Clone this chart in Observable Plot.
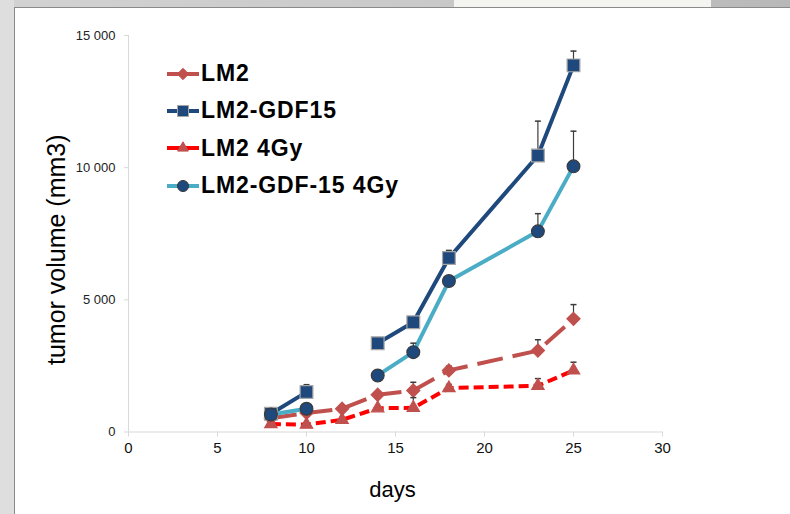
<!DOCTYPE html>
<html>
<head>
<meta charset="utf-8">
<script src="https://cdn.jsdelivr.net/npm/d3@7"></script>
<script src="https://cdn.jsdelivr.net/npm/@observablehq/plot@0.6"></script>
<style>
  html, body { margin: 0; padding: 0; background: #fff; }
  #page { position: relative; width: 790px; height: 514px; overflow: hidden; background: #fff; font-family: "Liberation Sans", Arial, sans-serif; }
  .strip { position: absolute; }
  #chart { position: absolute; left: 0; top: 0; }
  #legend { position: absolute; left: 159px; top: 55px; }
  .lrow { display: flex; align-items: center; height: 37.3px; }
  .lrow span { font-weight: bold; font-size: 23px; letter-spacing: 0.9px; color: #000; margin-left: 0px; }
</style>
</head>
<body>
<div id="page">
  <div class="strip" style="left:0;top:0;width:790px;height:7px;background:linear-gradient(90deg,#d2d2d2,#c9c9c9 55%,#b8b8b8);"></div>
  <div class="strip" style="left:454px;top:0;width:257px;height:7px;background:#f4f4f0;"></div>
  <div class="strip" style="left:0;top:7px;width:790px;height:1px;background:#8a8a8a;"></div>
  <div class="strip" style="left:0;top:0;width:14px;height:514px;background:#dedede;"></div>
  <div class="strip" style="left:14px;top:7px;width:1px;height:507px;background:#8a8a8a;"></div>
  <div id="chart"></div>
  <div id="legend"></div>
</div>
<script>
// ---- data ----
const days = [8, 10, 12, 14, 16, 18, 23, 25];
const seriesNames = ["LM2", "LM2-GDF15", "LM2 4Gy", "LM2-GDF-15 4Gy"];
const lm2      = [520, 720, 880, 1410, 1570, 2330, 3080, 4280];
const lm2Err   = [null, null, null, null, 1880, 2490, 3490, 4820];
const gdf15    = [690, 1510, null, 3360, 4150, 6580, 10460, 13870];
const gdf15Err = [null, 1790, null, null, null, 6870, 11760, 14410];
const lm24     = [300, 280, 460, 900, 915, 1660, 1750, 2330];
const lm24Err  = [null, null, null, null, 1300, 1800, 2020, 2640];
const gdf4     = [660, 880, null, 2140, 3020, 5710, 7590, 10050];
const gdf4Err  = [null, null, null, null, 3360, null, 8260, 11380];
const yTicks = [0, 5000, 10000, 15000];
const xTicks = [0, 5, 10, 15, 20, 25, 30];

// ---- styles ----
const styles = {
  "LM2":            {line: "#c0504d", marker: "#c0504d", mstroke: "#c0504d", symbol: "diamond2", r: 5.9, dash: "26,10"},
  "LM2-GDF15":      {line: "#1f497d", marker: "#1f497d", mstroke: "#a6a6a6", symbol: "square",   r: 7.2, dash: null},
  "LM2 4Gy":        {line: "#ff0000", marker: "#c0504d", mstroke: "#c0504d", symbol: "triangle", r: 4.6, dash: "10,5"},
  "LM2-GDF-15 4Gy": {line: "#4bacc6", marker: "#1f497d", mstroke: "#3a3a3a", symbol: "circle",   r: 6.4, dash: null}
};
const values = [lm2, gdf15, lm24, gdf4];
const errs = [lm2Err, gdf15Err, lm24Err, gdf4Err];

const rows = [];
seriesNames.forEach((s, i) => days.forEach((d, j) => rows.push({series: s, day: d, v: values[i][j], e: errs[i][j]})));

const fmt = d3.formatLocale({decimal: ",", thousands: " ", grouping: [3], currency: ["", ""]}).format(",");

const capSymbol = {draw(ctx, size) { const w = Math.sqrt(size / Math.PI); ctx.moveTo(-w, 0); ctx.lineTo(w, 0); }};

const marks = [
  Plot.ruleY([0], {stroke: "#d9d9d9"}),
  Plot.ruleX([0], {stroke: "#d9d9d9"}),
  Plot.axisY({ticks: yTicks, tickFormat: fmt, tickSize: 4, tickPadding: 9, stroke: "#d9d9d9", fill: "#222", fontSize: 13, label: null}),
  Plot.axisX({ticks: xTicks, tickSize: 5, tickPadding: 5, stroke: "#d9d9d9", fill: "#111", fontSize: 15, label: null}),
  Plot.text(["tumor volume (mm3)"], {frameAnchor: "left", dx: -81, dy: 16, rotate: -90, fontSize: 25, lineAnchor: "top", textAnchor: "middle", fill: "#000"}),
  Plot.text(["days"], {frameAnchor: "bottom", dx: -3, dy: 65, fontSize: 22, fill: "#000"})
];

// lines
seriesNames.forEach(s => {
  const st = styles[s];
  const data = rows.filter(r => r.series === s);
  marks.push(Plot.line(data, {x: "day", y: "v", stroke: st.line, strokeWidth: 4, strokeDasharray: st.dash, strokeLinecap: "butt", curve: "linear"}));
});
// error bars + markers in series order
seriesNames.forEach(s => {
  const st = styles[s];
  const data = rows.filter(r => r.series === s && r.v != null);
  const ed = data.filter(r => r.e != null);
  marks.push(Plot.ruleX(ed, {x: "day", y1: "v", y2: "e", stroke: "#3c3c3c", strokeWidth: 1.2}));
  marks.push(Plot.dot(ed, {x: "day", y: "e", symbol: capSymbol, r: 3, stroke: "#3c3c3c", strokeWidth: 1.5}));
  marks.push(Plot.dot(data, {x: "day", y: "v", symbol: st.symbol, r: st.r, fill: st.marker, stroke: st.mstroke, strokeWidth: 1.2, fillOpacity: 1}));
});

const plot = Plot.plot({
  width: 790, height: 514,
  marginLeft: 128, marginRight: 128, marginTop: 35, marginBottom: 82.5,
  x: {domain: [0, 30]},
  y: {domain: [0, 15000]},
  style: {background: "transparent", fontFamily: "Liberation Sans, Arial, sans-serif", color: "#000"},
  marks
});
document.getElementById("chart").appendChild(plot);

// legend
const legend = d3.select("#legend");
seriesNames.forEach(s => {
  const st = styles[s];
  const row = legend.append("div").attr("class", "lrow");
  const svg = row.append("svg").attr("width", 42).attr("height", 20);
  svg.append("line").attr("x1", 8).attr("x2", 40).attr("y1", 10).attr("y2", 10)
    .attr("stroke", st.line).attr("stroke-width", 4);
  const symMap = {diamond2: d3.symbolDiamond2, square: d3.symbolSquare, triangle: d3.symbolTriangle, circle: d3.symbolCircle};
  const sz = st.r * st.r * Math.PI * 0.75;
  svg.append("path").attr("d", d3.symbol(symMap[st.symbol], sz)()).attr("transform", "translate(24,10)")
    .attr("fill", st.marker).attr("stroke", st.mstroke).attr("stroke-width", 1);
  row.append("span").text(s);
});
</script>
</body>
</html>
